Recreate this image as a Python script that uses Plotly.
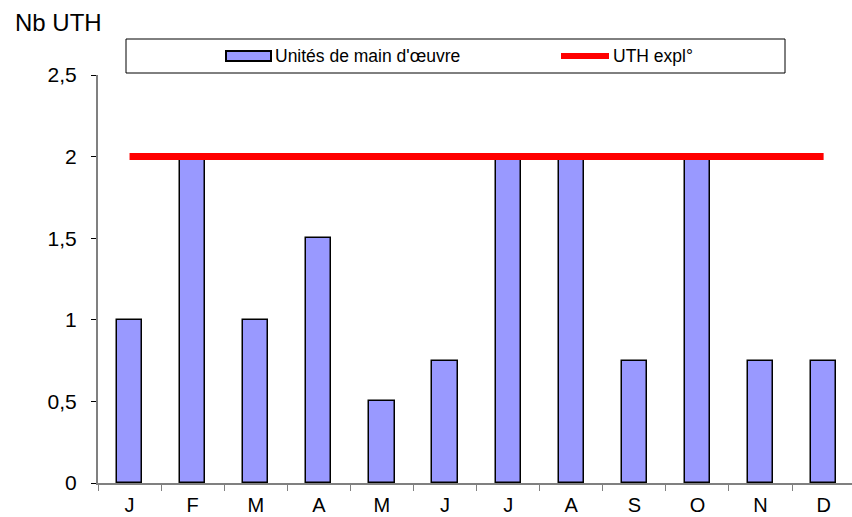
import plotly.graph_objects as go

months = ["J", "F", "M", "A", "M", "J", "J", "A", "S", "O", "N", "D"]
uth_main_oeuvre = [1, 2, 1, 1.5, 0.5, 0.75, 2, 2, 0.75, 2, 0.75, 0.75]
uth_expl = [2] * 12
y_ticks = [0, 0.5, 1, 1.5, 2, 2.5]
y_tick_labels = ["0", "0,5", "1", "1,5", "2", "2,5"]

x_idx = list(range(len(months)))

FONT = "Liberation Sans, Arial, sans-serif"
W, H = 852, 517
L, R, T, B = 98, 0, 75, 34
PW, PH = W - L - R, H - T - B

def px(x):
    return (x - L) / PW

def py(y):
    return 1 + (T - y) / PH

fig = go.Figure()
fig.add_trace(go.Bar(
    x=x_idx, y=uth_main_oeuvre, name="Unités de main d'œuvre",
    width=0.4, marker=dict(color="#9999FF", line=dict(color="black", width=1.5)),
    showlegend=False,
))
fig.add_trace(go.Scatter(
    x=x_idx, y=uth_expl, mode="lines", name="UTH expl°",
    line=dict(color="#FF0000", width=7), showlegend=False,
))

shapes = [
    dict(type="rect", xref="paper", yref="paper",
         x0=px(126), x1=px(785), y0=py(73), y1=py(39),
         line=dict(color="black", width=1), fillcolor="white", layer="above"),
    dict(type="rect", xref="paper", yref="paper",
         x0=px(226), x1=px(271), y0=py(61), y1=py(51),
         line=dict(color="black", width=2), fillcolor="#9999FF", layer="above"),
    dict(type="line", xref="paper", yref="paper",
         x0=px(561), x1=px(609), y0=py(56), y1=py(56),
         line=dict(color="#FF0000", width=6), layer="above"),
]
annotations = [
    dict(text="Nb UTH", xref="paper", yref="paper", x=px(13), y=py(22),
         xanchor="left", yanchor="middle", showarrow=False,
         font=dict(family=FONT, size=24, color="black")),
    dict(text="Unités de main d'œuvre", xref="paper", yref="paper", x=px(273), y=py(56),
         xanchor="left", yanchor="middle", showarrow=False,
         font=dict(family=FONT, size=17.5, color="black")),
    dict(text="UTH expl°", xref="paper", yref="paper", x=px(611), y=py(56),
         xanchor="left", yanchor="middle", showarrow=False,
         font=dict(family=FONT, size=17.5, color="black")),
]

fig.update_layout(
    width=W, height=H,
    margin=dict(l=L, r=R, t=T, b=B, pad=0),
    paper_bgcolor="white", plot_bgcolor="white",
    font=dict(family=FONT, size=21, color="black"),
    shapes=shapes, annotations=annotations,
    bargap=0,
)
fig.update_xaxes(
    tickmode="array", tickvals=x_idx, ticktext=months,
    range=[-0.5, 11.45], showgrid=False, zeroline=False,
    showline=True, linecolor="#808080", linewidth=2,
    ticks="", ticklabelstandoff=3, automargin=False,
    tickfont=dict(size=20),
)
fig.update_xaxes(minor=dict(tickmode="array", tickvals=[i - 0.5 for i in range(len(months) + 1)],
                            ticks="outside", ticklen=6, tickcolor="#808080", tickwidth=1))
fig.update_yaxes(
    range=[0, 2.5], tickmode="array", tickvals=y_ticks, ticktext=y_tick_labels,
    showgrid=False, zeroline=False, showline=True, linecolor="#808080", linewidth=2,
    ticks="outside", ticklen=5, tickcolor="black", tickwidth=1,
    ticklabelstandoff=10, automargin=False,
)

fig.write_html(
    "out.html",
    config={"displayModeBar": False},
    post_script="document.body.style.margin='0';document.body.style.overflow='hidden';",
)
